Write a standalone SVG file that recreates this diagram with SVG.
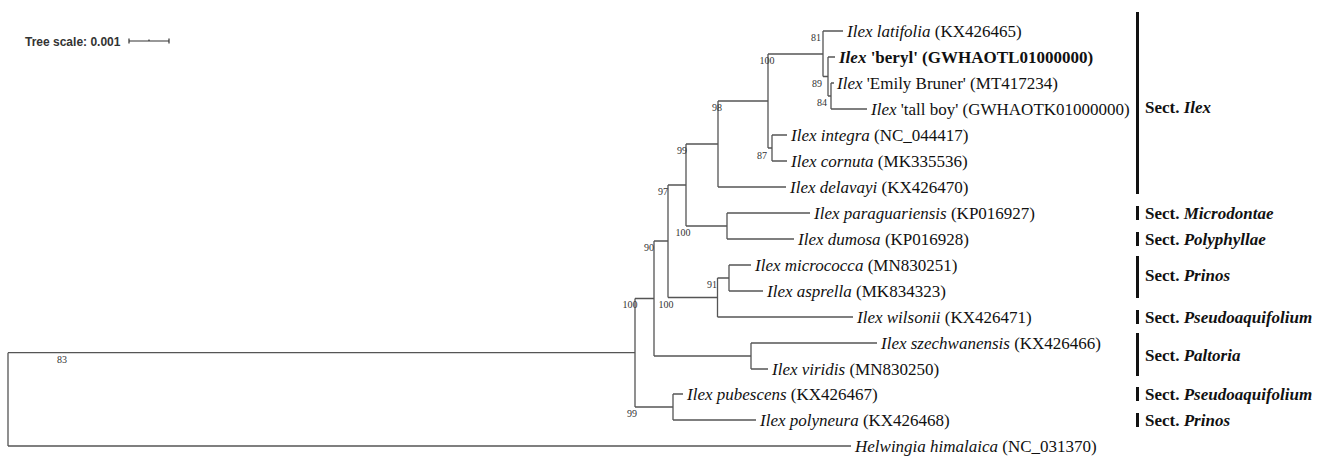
<svg xmlns="http://www.w3.org/2000/svg" width="1325" height="458" viewBox="0 0 1325 458">
<style>
.br{fill:none;stroke:#555;stroke-width:1.3}
.lf{font-family:"Liberation Serif","Times New Roman",serif;font-size:17px;fill:#111}
.it{font-style:italic}
.bd{font-weight:bold}
.bs{font-family:"Liberation Serif","Times New Roman",serif;font-size:10px;fill:#333}
.sc{font-family:"Liberation Serif","Times New Roman",serif;font-size:17px;font-weight:bold;fill:#111}
.bar{stroke:#111;stroke-width:3}
.ts{font-family:"Liberation Sans",Arial,sans-serif;font-size:12px;font-weight:bold;fill:#333}
</style>
<rect width="1325" height="458" fill="#fff"/>
<g id="tree-scale">
<text class="ts" x="25" y="46">Tree scale: 0.001</text>
<path d="M129,41H169M129,38.5V43.5M169,38.5V43.5M149,39.5V41" fill="none" stroke="#333" stroke-width="1.2"/>
</g>
<g id="connectors" class="br">
<path d="M8,352.7V446M8,352.7H635M8,446H851"/>
<path d="M635,298.5V407M635,298.5H654M635,407H673"/>
<path d="M673,394V420M673,394H683M673,420H756"/>
<path d="M654,241V356M654,241H668M654,356H751"/>
<path d="M751,343V369M751,343H877M751,369H768"/>
<path d="M668,185V297.5M668,185H686M668,297.5H717.5"/>
<path d="M717.5,278V317M717.5,278H729M717.5,317H853"/>
<path d="M729,265V291M729,265H751M729,291H763"/>
<path d="M686,144V226M686,144H718M686,226H727"/>
<path d="M727,213V239M727,213H810M727,239H794"/>
<path d="M718,101V187M718,101H768M718,187H786"/>
<path d="M768,54V148M768,54H823M768,148H772"/>
<path d="M772,135V161M772,135H787M772,161H787"/>
<path d="M823,31V76.5M823,31H843M823,76.5H828"/>
<path d="M828,57V96M828,57H835M828,96H831"/>
<path d="M831,83V109M831,83H834M831,109H867"/>
</g>
<g id="bootstrap" class="bs">
<text x="821" y="41" text-anchor="end">81</text>
<text x="767" y="64" text-anchor="middle">100</text>
<text x="822" y="87" text-anchor="end">89</text>
<text x="827" y="106" text-anchor="end">84</text>
<text x="717" y="111" text-anchor="middle">98</text>
<text x="767" y="159" text-anchor="end">87</text>
<text x="682" y="154" text-anchor="middle">99</text>
<text x="668" y="195" text-anchor="end">97</text>
<text x="683" y="236" text-anchor="middle">100</text>
<text x="654" y="251" text-anchor="end">90</text>
<text x="717" y="288" text-anchor="end">91</text>
<text x="630" y="308" text-anchor="middle">100</text>
<text x="666" y="308" text-anchor="middle">100</text>
<text x="637" y="417" text-anchor="end">99</text>
<text x="62" y="363" text-anchor="middle">83</text>
</g>
<g id="leaf-latifolia"><text class="lf" x="847" y="37"><tspan class="it">Ilex latifolia</tspan> (KX426465)</text></g>
<g id="leaf-beryl"><text class="lf bd" x="839" y="63"><tspan class="it">Ilex</tspan> 'beryl' (GWHAOTL01000000)</text></g>
<g id="leaf-emily"><text class="lf" x="837" y="89"><tspan class="it">Ilex</tspan> 'Emily Bruner' (MT417234)</text></g>
<g id="leaf-tallboy"><text class="lf" x="871" y="115"><tspan class="it">Ilex</tspan> 'tall boy' (GWHAOTK01000000)</text></g>
<g id="leaf-integra"><text class="lf" x="791" y="141"><tspan class="it">Ilex integra</tspan> (NC_044417)</text></g>
<g id="leaf-cornuta"><text class="lf" x="791" y="167"><tspan class="it">Ilex cornuta</tspan> (MK335536)</text></g>
<g id="leaf-delavayi"><text class="lf" x="790" y="193"><tspan class="it">Ilex delavayi</tspan> (KX426470)</text></g>
<g id="leaf-paraguariensis"><text class="lf" x="814" y="219"><tspan class="it">Ilex paraguariensis</tspan> (KP016927)</text></g>
<g id="leaf-dumosa"><text class="lf" x="798" y="245"><tspan class="it">Ilex dumosa</tspan> (KP016928)</text></g>
<g id="leaf-micrococca"><text class="lf" x="755" y="271"><tspan class="it">Ilex micrococca</tspan> (MN830251)</text></g>
<g id="leaf-asprella"><text class="lf" x="767" y="297"><tspan class="it">Ilex asprella</tspan> (MK834323)</text></g>
<g id="leaf-wilsonii"><text class="lf" x="857" y="323"><tspan class="it">Ilex wilsonii</tspan> (KX426471)</text></g>
<g id="leaf-szechwanensis"><text class="lf" x="881" y="349"><tspan class="it">Ilex szechwanensis</tspan> (KX426466)</text></g>
<g id="leaf-viridis"><text class="lf" x="772" y="375"><tspan class="it">Ilex viridis</tspan> (MN830250)</text></g>
<g id="leaf-pubescens"><text class="lf" x="687" y="400"><tspan class="it">Ilex pubescens</tspan> (KX426467)</text></g>
<g id="leaf-polyneura"><text class="lf" x="760" y="426"><tspan class="it">Ilex polyneura</tspan> (KX426468)</text></g>
<g id="leaf-helwingia"><text class="lf" x="855" y="452"><tspan class="it">Helwingia himalaica</tspan> (NC_031370)</text></g>
<g id="sect-ilex"><line class="bar" x1="1137.5" y1="12" x2="1137.5" y2="194"/><text class="sc" x="1145" y="113">Sect. <tspan class="it">Ilex</tspan></text></g>
<g id="sect-microdontae"><line class="bar" x1="1137.5" y1="206" x2="1137.5" y2="220"/><text class="sc" x="1145" y="219">Sect. <tspan class="it">Microdontae</tspan></text></g>
<g id="sect-polyphyllae"><line class="bar" x1="1137.5" y1="232" x2="1137.5" y2="246"/><text class="sc" x="1145" y="245">Sect. <tspan class="it">Polyphyllae</tspan></text></g>
<g id="sect-prinos-1"><line class="bar" x1="1137.5" y1="256" x2="1137.5" y2="298"/><text class="sc" x="1145" y="281">Sect. <tspan class="it">Prinos</tspan></text></g>
<g id="sect-pseudoaquifolium-1"><line class="bar" x1="1137.5" y1="310" x2="1137.5" y2="324"/><text class="sc" x="1145" y="323">Sect. <tspan class="it">Pseudoaquifolium</tspan></text></g>
<g id="sect-paltoria"><line class="bar" x1="1137.5" y1="333" x2="1137.5" y2="376"/><text class="sc" x="1145" y="361">Sect. <tspan class="it">Paltoria</tspan></text></g>
<g id="sect-pseudoaquifolium-2"><line class="bar" x1="1137.5" y1="387" x2="1137.5" y2="401"/><text class="sc" x="1145" y="400">Sect. <tspan class="it">Pseudoaquifolium</tspan></text></g>
<g id="sect-prinos-2"><line class="bar" x1="1137.5" y1="413" x2="1137.5" y2="427"/><text class="sc" x="1145" y="426">Sect. <tspan class="it">Prinos</tspan></text></g>
</svg>
